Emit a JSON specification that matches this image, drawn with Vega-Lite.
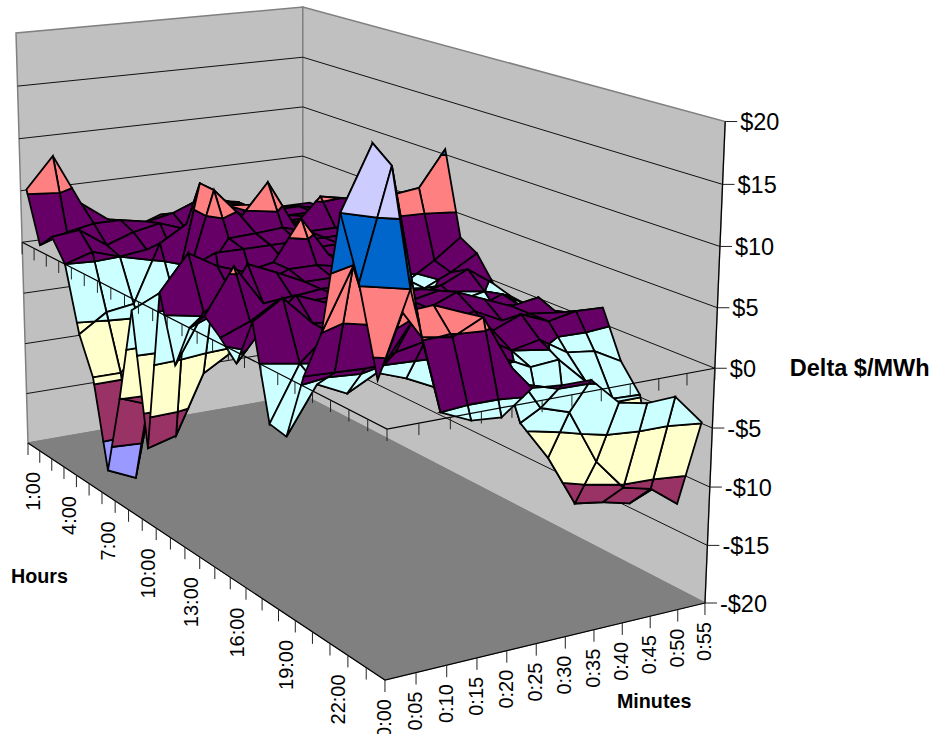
{"$schema":"https://vega.github.io/schema/vega-lite/v6.json","width":934,"height":734,"autosize":{"type":"none"},"padding":0,"background":"white","config":{"view":{"stroke":null}},
"datasets":{"grid":[
{"id":155,"hour":1,"minute":55,"delta":0.5},{"id":150,"hour":1,"minute":50,"delta":0.5},{"id":145,"hour":1,"minute":45,"delta":0.5},{"id":140,"hour":1,"minute":40,"delta":0.5},{"id":135,"hour":1,"minute":35,"delta":0.5},{"id":130,"hour":1,"minute":30,"delta":0.2},{"id":125,"hour":1,"minute":25,"delta":1.3},{"id":120,"hour":1,"minute":20,"delta":0.4},{"id":115,"hour":1,"minute":15,"delta":1.5},{"id":110,"hour":1,"minute":10,"delta":3.4},{"id":105,"hour":1,"minute":5,"delta":8.3},{"id":100,"hour":1,"minute":0,"delta":5.4},
{"id":255,"hour":2,"minute":55,"delta":0.5},{"id":250,"hour":2,"minute":50,"delta":1},{"id":245,"hour":2,"minute":45,"delta":1},{"id":240,"hour":2,"minute":40,"delta":1},{"id":235,"hour":2,"minute":35,"delta":2.5},{"id":230,"hour":2,"minute":30,"delta":3},{"id":225,"hour":2,"minute":25,"delta":2},{"id":220,"hour":2,"minute":20,"delta":1.5},{"id":215,"hour":2,"minute":15,"delta":2},{"id":210,"hour":2,"minute":10,"delta":2},{"id":205,"hour":2,"minute":5,"delta":1.5},{"id":200,"hour":2,"minute":0,"delta":0.6},
{"id":355,"hour":3,"minute":55,"delta":1},{"id":350,"hour":3,"minute":50,"delta":1},{"id":345,"hour":3,"minute":45,"delta":1},{"id":340,"hour":3,"minute":40,"delta":1.5},{"id":335,"hour":3,"minute":35,"delta":3},{"id":330,"hour":3,"minute":30,"delta":3},{"id":325,"hour":3,"minute":25,"delta":1},{"id":320,"hour":3,"minute":20,"delta":1.9},{"id":315,"hour":3,"minute":15,"delta":1.4},{"id":310,"hour":3,"minute":10,"delta":0.5},{"id":305,"hour":3,"minute":5,"delta":2.3},{"id":300,"hour":3,"minute":0,"delta":2},
{"id":455,"hour":4,"minute":55,"delta":1},{"id":450,"hour":4,"minute":50,"delta":1},{"id":445,"hour":4,"minute":45,"delta":1.5},{"id":440,"hour":4,"minute":40,"delta":2},{"id":435,"hour":4,"minute":35,"delta":3},{"id":430,"hour":4,"minute":30,"delta":4},{"id":425,"hour":4,"minute":25,"delta":4},{"id":420,"hour":4,"minute":20,"delta":-0.5},{"id":415,"hour":4,"minute":15,"delta":0.3},{"id":410,"hour":4,"minute":10,"delta":0},{"id":405,"hour":4,"minute":5,"delta":0.8},{"id":400,"hour":4,"minute":0,"delta":0},
{"id":555,"hour":5,"minute":55,"delta":1.5},{"id":550,"hour":5,"minute":50,"delta":1.5},{"id":545,"hour":5,"minute":45,"delta":2},{"id":540,"hour":5,"minute":40,"delta":2},{"id":535,"hour":5,"minute":35,"delta":3},{"id":530,"hour":5,"minute":30,"delta":4},{"id":525,"hour":5,"minute":25,"delta":3.5},{"id":520,"hour":5,"minute":20,"delta":3},{"id":515,"hour":5,"minute":15,"delta":1.5},{"id":510,"hour":5,"minute":10,"delta":-3.9},{"id":505,"hour":5,"minute":5,"delta":-4.3},{"id":500,"hour":5,"minute":0,"delta":-6},
{"id":655,"hour":6,"minute":55,"delta":2},{"id":650,"hour":6,"minute":50,"delta":2},{"id":645,"hour":6,"minute":45,"delta":2},{"id":640,"hour":6,"minute":40,"delta":2},{"id":635,"hour":6,"minute":35,"delta":3},{"id":630,"hour":6,"minute":30,"delta":3},{"id":625,"hour":6,"minute":25,"delta":5},{"id":620,"hour":6,"minute":20,"delta":7.4},{"id":615,"hour":6,"minute":15,"delta":-3},{"id":610,"hour":6,"minute":10,"delta":-7},{"id":605,"hour":6,"minute":5,"delta":-9.4},{"id":600,"hour":6,"minute":0,"delta":-9.4},
{"id":755,"hour":7,"minute":55,"delta":2},{"id":750,"hour":7,"minute":50,"delta":2.5},{"id":745,"hour":7,"minute":45,"delta":4.9},{"id":740,"hour":7,"minute":40,"delta":5.4},{"id":735,"hour":7,"minute":35,"delta":3},{"id":730,"hour":7,"minute":30,"delta":7.4},{"id":725,"hour":7,"minute":25,"delta":4.5},{"id":720,"hour":7,"minute":20,"delta":7.3},{"id":715,"hour":7,"minute":15,"delta":-0.5},{"id":710,"hour":7,"minute":10,"delta":-6.5},{"id":705,"hour":7,"minute":5,"delta":-18.7},{"id":700,"hour":7,"minute":0,"delta":-17.5},
{"id":855,"hour":8,"minute":55,"delta":3},{"id":850,"hour":8,"minute":50,"delta":3},{"id":845,"hour":8,"minute":45,"delta":3},{"id":840,"hour":8,"minute":40,"delta":3},{"id":835,"hour":8,"minute":35,"delta":3},{"id":830,"hour":8,"minute":30,"delta":3.7},{"id":825,"hour":8,"minute":25,"delta":3.5},{"id":820,"hour":8,"minute":20,"delta":3.4},{"id":815,"hour":8,"minute":15,"delta":0},{"id":810,"hour":8,"minute":10,"delta":-5},{"id":805,"hour":8,"minute":5,"delta":-10.9},{"id":800,"hour":8,"minute":0,"delta":-9.9},
{"id":955,"hour":9,"minute":55,"delta":5},{"id":950,"hour":9,"minute":50,"delta":5},{"id":945,"hour":9,"minute":45,"delta":4},{"id":940,"hour":9,"minute":40,"delta":3},{"id":935,"hour":9,"minute":35,"delta":3},{"id":930,"hour":9,"minute":30,"delta":3},{"id":925,"hour":9,"minute":25,"delta":3},{"id":920,"hour":9,"minute":20,"delta":3},{"id":915,"hour":9,"minute":15,"delta":3},{"id":910,"hour":9,"minute":10,"delta":2},{"id":905,"hour":9,"minute":5,"delta":0.1},{"id":900,"hour":9,"minute":0,"delta":-1.1},
{"id":1055,"hour":10,"minute":55,"delta":10.5},{"id":1050,"hour":10,"minute":50,"delta":7.2},{"id":1045,"hour":10,"minute":45,"delta":6.9},{"id":1040,"hour":10,"minute":40,"delta":4},{"id":1035,"hour":10,"minute":35,"delta":3},{"id":1030,"hour":10,"minute":30,"delta":3},{"id":1025,"hour":10,"minute":25,"delta":2},{"id":1020,"hour":10,"minute":20,"delta":-1},{"id":1015,"hour":10,"minute":15,"delta":-5.5},{"id":1010,"hour":10,"minute":10,"delta":-7},{"id":1005,"hour":10,"minute":5,"delta":-12.3},{"id":1000,"hour":10,"minute":0,"delta":-13},
{"id":1155,"hour":11,"minute":55,"delta":2.8},{"id":1150,"hour":11,"minute":50,"delta":1},{"id":1145,"hour":11,"minute":45,"delta":-0.5},{"id":1140,"hour":11,"minute":40,"delta":1},{"id":1135,"hour":11,"minute":35,"delta":2},{"id":1130,"hour":11,"minute":30,"delta":3},{"id":1125,"hour":11,"minute":25,"delta":6.6},{"id":1120,"hour":11,"minute":20,"delta":3},{"id":1115,"hour":11,"minute":15,"delta":2.5},{"id":1110,"hour":11,"minute":10,"delta":3.4},{"id":1105,"hour":11,"minute":5,"delta":4.9},{"id":1100,"hour":11,"minute":0,"delta":1.8},
{"id":1255,"hour":12,"minute":55,"delta":1.9},{"id":1250,"hour":12,"minute":50,"delta":0.5},{"id":1245,"hour":12,"minute":45,"delta":-0.6},{"id":1240,"hour":12,"minute":40,"delta":-0.3},{"id":1235,"hour":12,"minute":35,"delta":1.5},{"id":1230,"hour":12,"minute":30,"delta":2.5},{"id":1225,"hour":12,"minute":25,"delta":3},{"id":1220,"hour":12,"minute":20,"delta":3},{"id":1215,"hour":12,"minute":15,"delta":2},{"id":1210,"hour":12,"minute":10,"delta":1.5},{"id":1205,"hour":12,"minute":5,"delta":0.3},{"id":1200,"hour":12,"minute":0,"delta":-4},
{"id":1355,"hour":13,"minute":55,"delta":-0.3},{"id":1350,"hour":13,"minute":50,"delta":1.4},{"id":1345,"hour":13,"minute":45,"delta":0.3},{"id":1340,"hour":13,"minute":40,"delta":-0.3},{"id":1335,"hour":13,"minute":35,"delta":1},{"id":1330,"hour":13,"minute":30,"delta":2},{"id":1325,"hour":13,"minute":25,"delta":2.5},{"id":1320,"hour":13,"minute":20,"delta":2.5},{"id":1315,"hour":13,"minute":15,"delta":3.7},{"id":1310,"hour":13,"minute":10,"delta":4.8},{"id":1305,"hour":13,"minute":5,"delta":1},{"id":1300,"hour":13,"minute":0,"delta":0},
{"id":1455,"hour":14,"minute":55,"delta":-0.8},{"id":1450,"hour":14,"minute":50,"delta":0},{"id":1445,"hour":14,"minute":45,"delta":-0.5},{"id":1440,"hour":14,"minute":40,"delta":0.5},{"id":1435,"hour":14,"minute":35,"delta":1},{"id":1430,"hour":14,"minute":30,"delta":2},{"id":1425,"hour":14,"minute":25,"delta":2.5},{"id":1420,"hour":14,"minute":20,"delta":2.5},{"id":1415,"hour":14,"minute":15,"delta":2.2},{"id":1410,"hour":14,"minute":10,"delta":2},{"id":1405,"hour":14,"minute":5,"delta":5.6},{"id":1400,"hour":14,"minute":0,"delta":1.7},
{"id":1555,"hour":15,"minute":55,"delta":-1},{"id":1550,"hour":15,"minute":50,"delta":0.4},{"id":1545,"hour":15,"minute":45,"delta":-0.5},{"id":1540,"hour":15,"minute":40,"delta":1},{"id":1535,"hour":15,"minute":35,"delta":2},{"id":1530,"hour":15,"minute":30,"delta":2},{"id":1525,"hour":15,"minute":25,"delta":2},{"id":1520,"hour":15,"minute":20,"delta":2.5},{"id":1515,"hour":15,"minute":15,"delta":2.5},{"id":1510,"hour":15,"minute":10,"delta":3},{"id":1505,"hour":15,"minute":5,"delta":1.5},{"id":1500,"hour":15,"minute":0,"delta":0.5},
{"id":1655,"hour":16,"minute":55,"delta":-1.5},{"id":1650,"hour":16,"minute":50,"delta":0},{"id":1645,"hour":16,"minute":45,"delta":0.5},{"id":1640,"hour":16,"minute":40,"delta":1.5},{"id":1635,"hour":16,"minute":35,"delta":2.5},{"id":1630,"hour":16,"minute":30,"delta":2},{"id":1625,"hour":16,"minute":25,"delta":2},{"id":1620,"hour":16,"minute":20,"delta":2.5},{"id":1615,"hour":16,"minute":15,"delta":3},{"id":1610,"hour":16,"minute":10,"delta":4},{"id":1605,"hour":16,"minute":5,"delta":2},{"id":1600,"hour":16,"minute":0,"delta":-1},
{"id":1755,"hour":17,"minute":55,"delta":-1},{"id":1750,"hour":17,"minute":50,"delta":1.4},{"id":1745,"hour":17,"minute":45,"delta":1},{"id":1740,"hour":17,"minute":40,"delta":2},{"id":1735,"hour":17,"minute":35,"delta":3},{"id":1730,"hour":17,"minute":30,"delta":2},{"id":1725,"hour":17,"minute":25,"delta":2},{"id":1720,"hour":17,"minute":20,"delta":2},{"id":1715,"hour":17,"minute":15,"delta":2},{"id":1710,"hour":17,"minute":10,"delta":2.3},{"id":1705,"hour":17,"minute":5,"delta":4.8},{"id":1700,"hour":17,"minute":0,"delta":3.2},
{"id":1855,"hour":18,"minute":55,"delta":0.5},{"id":1850,"hour":18,"minute":50,"delta":0.7},{"id":1845,"hour":18,"minute":45,"delta":1},{"id":1840,"hour":18,"minute":40,"delta":0.8},{"id":1835,"hour":18,"minute":35,"delta":2},{"id":1830,"hour":18,"minute":30,"delta":1.5},{"id":1825,"hour":18,"minute":25,"delta":1},{"id":1820,"hour":18,"minute":20,"delta":1},{"id":1815,"hour":18,"minute":15,"delta":1},{"id":1810,"hour":18,"minute":10,"delta":2.2},{"id":1805,"hour":18,"minute":5,"delta":0},{"id":1800,"hour":18,"minute":0,"delta":-4.6},
{"id":1955,"hour":19,"minute":55,"delta":1.4},{"id":1950,"hour":19,"minute":50,"delta":1.5},{"id":1945,"hour":19,"minute":45,"delta":1},{"id":1940,"hour":19,"minute":40,"delta":2},{"id":1935,"hour":19,"minute":35,"delta":1},{"id":1930,"hour":19,"minute":30,"delta":-1},{"id":1925,"hour":19,"minute":25,"delta":-3},{"id":1920,"hour":19,"minute":20,"delta":-1.8},{"id":1915,"hour":19,"minute":15,"delta":-0.9},{"id":1910,"hour":19,"minute":10,"delta":-2.2},{"id":1905,"hour":19,"minute":5,"delta":-1},{"id":1900,"hour":19,"minute":0,"delta":-4.9},
{"id":2055,"hour":20,"minute":55,"delta":-2.6},{"id":2050,"hour":20,"minute":50,"delta":-1.3},{"id":2045,"hour":20,"minute":45,"delta":-1},{"id":2040,"hour":20,"minute":40,"delta":0.5},{"id":2035,"hour":20,"minute":35,"delta":0},{"id":2030,"hour":20,"minute":30,"delta":1.5},{"id":2025,"hour":20,"minute":25,"delta":2},{"id":2020,"hour":20,"minute":20,"delta":2},{"id":2015,"hour":20,"minute":15,"delta":1.5},{"id":2010,"hour":20,"minute":10,"delta":0.6},{"id":2005,"hour":20,"minute":5,"delta":0.7},{"id":2000,"hour":20,"minute":0,"delta":0.8},
{"id":2155,"hour":21,"minute":55,"delta":-4.8},{"id":2150,"hour":21,"minute":50,"delta":-4.7},{"id":2145,"hour":21,"minute":45,"delta":-2.8},{"id":2140,"hour":21,"minute":40,"delta":-0.5},{"id":2135,"hour":21,"minute":35,"delta":-0.7},{"id":2130,"hour":21,"minute":30,"delta":0.5},{"id":2125,"hour":21,"minute":25,"delta":0.5},{"id":2120,"hour":21,"minute":20,"delta":0.5},{"id":2115,"hour":21,"minute":15,"delta":5},{"id":2110,"hour":21,"minute":10,"delta":1.6},{"id":2105,"hour":21,"minute":5,"delta":9.9},{"id":2100,"hour":21,"minute":0,"delta":5},
{"id":2255,"hour":22,"minute":55,"delta":-12},{"id":2250,"hour":22,"minute":50,"delta":-13},{"id":2245,"hour":22,"minute":45,"delta":-12.4},{"id":2240,"hour":22,"minute":40,"delta":-12},{"id":2235,"hour":22,"minute":35,"delta":-7.6},{"id":2230,"hour":22,"minute":30,"delta":-4.2},{"id":2225,"hour":22,"minute":25,"delta":3.5},{"id":2220,"hour":22,"minute":20,"delta":5.7},{"id":2215,"hour":22,"minute":15,"delta":6.7},{"id":2210,"hour":22,"minute":10,"delta":6.5},{"id":2205,"hour":22,"minute":5,"delta":20},{"id":2200,"hour":22,"minute":0,"delta":15},
{"id":2355,"hour":23,"minute":55,"delta":-12.7},{"id":2350,"hour":23,"minute":50,"delta":-10.9},{"id":2345,"hour":23,"minute":45,"delta":-10.3},{"id":2340,"hour":23,"minute":40,"delta":-7.6},{"id":2335,"hour":23,"minute":35,"delta":-3},{"id":2330,"hour":23,"minute":30,"delta":-2.2},{"id":2325,"hour":23,"minute":25,"delta":1.5},{"id":2320,"hour":23,"minute":20,"delta":6},{"id":2315,"hour":23,"minute":15,"delta":4.8},{"id":2310,"hour":23,"minute":10,"delta":5.2},{"id":2305,"hour":23,"minute":5,"delta":18.8},{"id":2300,"hour":23,"minute":0,"delta":10.2},
{"id":2455,"hour":24,"minute":55,"delta":-4.9},{"id":2450,"hour":24,"minute":50,"delta":-2.3},{"id":2445,"hour":24,"minute":45,"delta":-2.4},{"id":2440,"hour":24,"minute":40,"delta":-1.9},{"id":2435,"hour":24,"minute":35,"delta":0.4},{"id":2430,"hour":24,"minute":30,"delta":0.4},{"id":2425,"hour":24,"minute":25,"delta":0.6},{"id":2420,"hour":24,"minute":20,"delta":-1.3},{"id":2415,"hour":24,"minute":15,"delta":-1.1},{"id":2410,"hour":24,"minute":10,"delta":0},{"id":2405,"hour":24,"minute":5,"delta":10},{"id":2400,"hour":24,"minute":0,"delta":3.4}
],
"frame":[
{"part":"wall","path":"L","seq":0,"hour":0.5,"minute":0,"delta":-20},{"part":"wall","path":"L","seq":1,"hour":0.5,"minute":55,"delta":-20},{"part":"wall","path":"L","seq":2,"hour":0.5,"minute":55,"delta":20},{"part":"wall","path":"L","seq":3,"hour":0.5,"minute":0,"delta":20},
{"part":"wall","path":"R","seq":0,"hour":0.5,"minute":55,"delta":-20},{"part":"wall","path":"R","seq":1,"hour":24.5,"minute":55,"delta":-20},{"part":"wall","path":"R","seq":2,"hour":24.5,"minute":55,"delta":20},{"part":"wall","path":"R","seq":3,"hour":0.5,"minute":55,"delta":20},
{"part":"floor","path":"F","seq":0,"hour":0.5,"minute":0,"delta":-20},{"part":"floor","path":"F","seq":1,"hour":24.5,"minute":0,"delta":-20},{"part":"floor","path":"F","seq":2,"hour":24.5,"minute":55,"delta":-20},{"part":"floor","path":"F","seq":3,"hour":0.5,"minute":55,"delta":-20},
{"part":"grid","path":"g15","seq":0,"hour":0.5,"minute":0,"delta":15},{"part":"grid","path":"g15","seq":1,"hour":0.5,"minute":55,"delta":15},{"part":"grid","path":"g15","seq":2,"hour":24.5,"minute":55,"delta":15},
{"part":"grid","path":"g10","seq":0,"hour":0.5,"minute":0,"delta":10},{"part":"grid","path":"g10","seq":1,"hour":0.5,"minute":55,"delta":10},{"part":"grid","path":"g10","seq":2,"hour":24.5,"minute":55,"delta":10},
{"part":"grid","path":"g5","seq":0,"hour":0.5,"minute":0,"delta":5},{"part":"grid","path":"g5","seq":1,"hour":0.5,"minute":55,"delta":5},{"part":"grid","path":"g5","seq":2,"hour":24.5,"minute":55,"delta":5},
{"part":"grid","path":"g0","seq":0,"hour":0.5,"minute":0,"delta":0},{"part":"grid","path":"g0","seq":1,"hour":0.5,"minute":55,"delta":0},{"part":"grid","path":"g0","seq":2,"hour":24.5,"minute":55,"delta":0},
{"part":"grid","path":"gm5","seq":0,"hour":0.5,"minute":0,"delta":-5},{"part":"grid","path":"gm5","seq":1,"hour":0.5,"minute":55,"delta":-5},{"part":"grid","path":"gm5","seq":2,"hour":24.5,"minute":55,"delta":-5},
{"part":"grid","path":"gm10","seq":0,"hour":0.5,"minute":0,"delta":-10},{"part":"grid","path":"gm10","seq":1,"hour":0.5,"minute":55,"delta":-10},{"part":"grid","path":"gm10","seq":2,"hour":24.5,"minute":55,"delta":-10},
{"part":"grid","path":"gm15","seq":0,"hour":0.5,"minute":0,"delta":-15},{"part":"grid","path":"gm15","seq":1,"hour":0.5,"minute":55,"delta":-15},{"part":"grid","path":"gm15","seq":2,"hour":24.5,"minute":55,"delta":-15},
{"part":"axis","path":"a0","seq":0,"hour":0.5,"minute":0,"delta":0},{"part":"axis","path":"a0","seq":1,"hour":24.5,"minute":0,"delta":0},{"part":"axis","path":"a0","seq":2,"hour":24.5,"minute":55,"delta":0},
{"part":"axis","path":"af","seq":0,"hour":0.5,"minute":0,"delta":-20},{"part":"axis","path":"af","seq":1,"hour":24.5,"minute":0,"delta":-20},{"part":"axis","path":"af","seq":2,"hour":24.5,"minute":55,"delta":-20},
{"part":"axis","path":"az","seq":0,"hour":24.5,"minute":55,"delta":-20},{"part":"axis","path":"az","seq":1,"hour":24.5,"minute":55,"delta":20},
{"part":"tz","hour":24.5,"minute":55,"delta":20},{"part":"tz","hour":24.5,"minute":55,"delta":15},{"part":"tz","hour":24.5,"minute":55,"delta":10},{"part":"tz","hour":24.5,"minute":55,"delta":5},{"part":"tz","hour":24.5,"minute":55,"delta":0},{"part":"tz","hour":24.5,"minute":55,"delta":-5},{"part":"tz","hour":24.5,"minute":55,"delta":-10},{"part":"tz","hour":24.5,"minute":55,"delta":-15},{"part":"tz","hour":24.5,"minute":55,"delta":-20},
{"part":"tick","hour":0.5,"minute":0,"delta":-20},{"part":"tick","hour":1.5,"minute":0,"delta":-20},{"part":"tick","hour":2.5,"minute":0,"delta":-20},{"part":"tick","hour":3.5,"minute":0,"delta":-20},{"part":"tick","hour":4.5,"minute":0,"delta":-20},{"part":"tick","hour":5.5,"minute":0,"delta":-20},{"part":"tick","hour":6.5,"minute":0,"delta":-20},{"part":"tick","hour":7.5,"minute":0,"delta":-20},{"part":"tick","hour":8.5,"minute":0,"delta":-20},{"part":"tick","hour":9.5,"minute":0,"delta":-20},{"part":"tick","hour":10.5,"minute":0,"delta":-20},{"part":"tick","hour":11.5,"minute":0,"delta":-20},{"part":"tick","hour":12.5,"minute":0,"delta":-20},{"part":"tick","hour":13.5,"minute":0,"delta":-20},{"part":"tick","hour":14.5,"minute":0,"delta":-20},{"part":"tick","hour":15.5,"minute":0,"delta":-20},{"part":"tick","hour":16.5,"minute":0,"delta":-20},{"part":"tick","hour":17.5,"minute":0,"delta":-20},{"part":"tick","hour":18.5,"minute":0,"delta":-20},{"part":"tick","hour":19.5,"minute":0,"delta":-20},{"part":"tick","hour":20.5,"minute":0,"delta":-20},{"part":"tick","hour":21.5,"minute":0,"delta":-20},{"part":"tick","hour":22.5,"minute":0,"delta":-20},{"part":"tick","hour":23.5,"minute":0,"delta":-20},{"part":"tick","hour":24.5,"minute":0,"delta":-20},
{"part":"tick","hour":24.5,"minute":5,"delta":-20},{"part":"tick","hour":24.5,"minute":10,"delta":-20},{"part":"tick","hour":24.5,"minute":15,"delta":-20},{"part":"tick","hour":24.5,"minute":20,"delta":-20},{"part":"tick","hour":24.5,"minute":25,"delta":-20},{"part":"tick","hour":24.5,"minute":30,"delta":-20},{"part":"tick","hour":24.5,"minute":35,"delta":-20},{"part":"tick","hour":24.5,"minute":40,"delta":-20},{"part":"tick","hour":24.5,"minute":45,"delta":-20},{"part":"tick","hour":24.5,"minute":50,"delta":-20},{"part":"tick","hour":24.5,"minute":55,"delta":-20},
{"part":"tick","hour":0.5,"minute":0,"delta":0},{"part":"tick","hour":1.5,"minute":0,"delta":0},{"part":"tick","hour":2.5,"minute":0,"delta":0},{"part":"tick","hour":3.5,"minute":0,"delta":0},{"part":"tick","hour":4.5,"minute":0,"delta":0},{"part":"tick","hour":5.5,"minute":0,"delta":0},{"part":"tick","hour":6.5,"minute":0,"delta":0},{"part":"tick","hour":7.5,"minute":0,"delta":0},{"part":"tick","hour":8.5,"minute":0,"delta":0},{"part":"tick","hour":9.5,"minute":0,"delta":0},{"part":"tick","hour":10.5,"minute":0,"delta":0},{"part":"tick","hour":11.5,"minute":0,"delta":0},{"part":"tick","hour":12.5,"minute":0,"delta":0},{"part":"tick","hour":13.5,"minute":0,"delta":0},{"part":"tick","hour":14.5,"minute":0,"delta":0},{"part":"tick","hour":15.5,"minute":0,"delta":0},{"part":"tick","hour":16.5,"minute":0,"delta":0},{"part":"tick","hour":17.5,"minute":0,"delta":0},{"part":"tick","hour":18.5,"minute":0,"delta":0},{"part":"tick","hour":19.5,"minute":0,"delta":0},{"part":"tick","hour":20.5,"minute":0,"delta":0},{"part":"tick","hour":21.5,"minute":0,"delta":0},{"part":"tick","hour":22.5,"minute":0,"delta":0},{"part":"tick","hour":23.5,"minute":0,"delta":0},{"part":"tick","hour":24.5,"minute":0,"delta":0},
{"part":"tick","hour":24.5,"minute":5,"delta":0},{"part":"tick","hour":24.5,"minute":10,"delta":0},{"part":"tick","hour":24.5,"minute":15,"delta":0},{"part":"tick","hour":24.5,"minute":20,"delta":0},{"part":"tick","hour":24.5,"minute":25,"delta":0},{"part":"tick","hour":24.5,"minute":30,"delta":0},{"part":"tick","hour":24.5,"minute":35,"delta":0},{"part":"tick","hour":24.5,"minute":40,"delta":0},{"part":"tick","hour":24.5,"minute":45,"delta":0},{"part":"tick","hour":24.5,"minute":50,"delta":0},{"part":"tick","hour":24.5,"minute":55,"delta":0},
{"part":"lh","label":"1:00","hour":1,"minute":0,"delta":-20},{"part":"lh","label":"4:00","hour":4,"minute":0,"delta":-20},{"part":"lh","label":"7:00","hour":7,"minute":0,"delta":-20},{"part":"lh","label":"10:00","hour":10,"minute":0,"delta":-20},{"part":"lh","label":"13:00","hour":13,"minute":0,"delta":-20},{"part":"lh","label":"16:00","hour":16,"minute":0,"delta":-20},{"part":"lh","label":"19:00","hour":19,"minute":0,"delta":-20},{"part":"lh","label":"22:00","hour":22,"minute":0,"delta":-20},
{"part":"lm","label":"0:00","hour":24.5,"minute":0,"delta":-20},{"part":"lm","label":"0:05","hour":24.5,"minute":5,"delta":-20},{"part":"lm","label":"0:10","hour":24.5,"minute":10,"delta":-20},{"part":"lm","label":"0:15","hour":24.5,"minute":15,"delta":-20},{"part":"lm","label":"0:20","hour":24.5,"minute":20,"delta":-20},{"part":"lm","label":"0:25","hour":24.5,"minute":25,"delta":-20},{"part":"lm","label":"0:30","hour":24.5,"minute":30,"delta":-20},{"part":"lm","label":"0:35","hour":24.5,"minute":35,"delta":-20},{"part":"lm","label":"0:40","hour":24.5,"minute":40,"delta":-20},{"part":"lm","label":"0:45","hour":24.5,"minute":45,"delta":-20},{"part":"lm","label":"0:50","hour":24.5,"minute":50,"delta":-20},{"part":"lm","label":"0:55","hour":24.5,"minute":55,"delta":-20},
{"part":"lz","label":"$20","hour":24.5,"minute":55,"delta":20},{"part":"lz","label":"$15","hour":24.5,"minute":55,"delta":15},{"part":"lz","label":"$10","hour":24.5,"minute":55,"delta":10},{"part":"lz","label":"$5","hour":24.5,"minute":55,"delta":5},{"part":"lz","label":"$0","hour":24.5,"minute":55,"delta":0},{"part":"lz","label":"-$5","hour":24.5,"minute":55,"delta":-5},{"part":"lz","label":"-$10","hour":24.5,"minute":55,"delta":-10},{"part":"lz","label":"-$15","hour":24.5,"minute":55,"delta":-15},{"part":"lz","label":"-$20","hour":24.5,"minute":55,"delta":-20},
{"part":"tdelta","label":"Delta $/MWh","hour":24.5,"minute":55,"delta":0},{"part":"thours","label":"Hours","hour":0.5,"minute":0,"delta":-20},{"part":"tminutes","label":"Minutes","hour":24.5,"minute":55,"delta":-20}
]},
"data":{"name":"grid"},
"transform":[
{"filter":"datum.hour<24 && datum.minute<55"},
{"calculate":"(datum.hour+1)*100+datum.minute","as":"k10"},
{"calculate":"datum.hour*100+datum.minute+5","as":"k01"},
{"calculate":"(datum.hour+1)*100+datum.minute+5","as":"k11"},
{"lookup":"k10","from":{"data":{"name":"grid"},"key":"id","fields":["delta"]},"as":["z10"]},
{"lookup":"k01","from":{"data":{"name":"grid"},"key":"id","fields":["delta"]},"as":["z01"]},
{"lookup":"k11","from":{"data":{"name":"grid"},"key":"id","fields":["delta"]},"as":["z11"]},
{"calculate":"[-20,-15,-10,-5,0,5,10,15]","as":"lo"},
{"flatten":["lo"]},
{"calculate":"datum.lo+5","as":"hi"},
{"filter":"datum.lo<max(datum.delta,datum.z10,datum.z01,datum.z11) && datum.hi>min(datum.delta,datum.z10,datum.z01,datum.z11)"},
{"calculate":"[0,1,2,3,4,5,6,7,8,9,10,11]","as":"pt"},
{"flatten":["pt"]},
{"calculate":"floor(datum.pt/3)","as":"edge"},
{"calculate":"datum.pt%3","as":"kind"},
{"calculate":"datum.edge==0?datum.delta:datum.edge==1?datum.z10:datum.edge==2?datum.z11:datum.z01","as":"za"},
{"calculate":"datum.edge==0?datum.z10:datum.edge==1?datum.z11:datum.edge==2?datum.z01:datum.delta","as":"zb"},
{"calculate":"datum.hour+((datum.edge==1||datum.edge==2)?1:0)","as":"ha"},
{"calculate":"datum.hour+((datum.edge==0||datum.edge==1)?1:0)","as":"hb"},
{"calculate":"datum.minute+((datum.edge==2||datum.edge==3)?5:0)","as":"ma"},
{"calculate":"datum.minute+((datum.edge==1||datum.edge==2)?5:0)","as":"mb"},
{"calculate":"datum.kind==0?0:(datum.za==datum.zb?-1:(((datum.kind==1)==(datum.za<datum.zb)?datum.lo:datum.hi)-datum.za)/(datum.zb-datum.za))","as":"s"},
{"filter":"datum.kind==0?(datum.za>=datum.lo&&datum.za<=datum.hi):(datum.s>0&&datum.s<1)"},
{"calculate":"datum.hour*100+datum.minute+'_'+datum.lo","as":"poly"},
{"calculate":"(datum.ha+(datum.hb-datum.ha)*datum.s-0.5)/24","as":"u"},
{"calculate":"(datum.ma+(datum.mb-datum.ma)*datum.s)/55","as":"v"},
{"calculate":"(datum.za+(datum.zb-datum.za)*datum.s+20)/40","as":"t"},
{"calculate":"1-0.2155*datum.u+0.0596*datum.v-0.041*datum.t","as":"w"},
{"calculate":"(274*datum.u+293.06*datum.v+28-12.66*datum.t)/datum.w","as":"px"},
{"calculate":"(90.46*datum.u-24.46*datum.v+443-411.4*datum.t)/datum.w","as":"py"}
],
"encoding":{"x":{"field":"px","type":"quantitative","scale":{"domain":[0,934],"nice":false,"zero":false},"axis":null},"y":{"field":"py","type":"quantitative","scale":{"domain":[734,0],"nice":false,"zero":false},"axis":null}},
"layer":[
{"data":{"name":"frame"},"transform":[
{"calculate":"(datum.hour-0.5)/24","as":"u"},{"calculate":"datum.minute/55","as":"v"},{"calculate":"(datum.delta+20)/40","as":"t"},{"calculate":"1-0.2155*datum.u+0.0596*datum.v-0.041*datum.t","as":"w"},{"calculate":"(274*datum.u+293.06*datum.v+28-12.66*datum.t)/datum.w","as":"px"},{"calculate":"(90.46*datum.u-24.46*datum.v+443-411.4*datum.t)/datum.w","as":"py"}],
"layer":[
{"transform":[{"filter":"datum.part=='wall'"}],"mark":{"type":"line","interpolate":"linear-closed","fill":"#C0C0C0","stroke":"#808080","strokeWidth":1.5},"encoding":{"detail":{"field":"path"},"order":{"field":"seq"}}},
{"transform":[{"filter":"datum.part=='floor'"}],"mark":{"type":"line","interpolate":"linear-closed","fill":"#808080","stroke":"#808080","strokeWidth":1},"encoding":{"detail":{"field":"path"},"order":{"field":"seq"}}},
{"transform":[{"filter":"datum.part=='grid'"}],"mark":{"type":"line","stroke":"#111111","strokeWidth":1},"encoding":{"detail":{"field":"path"},"order":{"field":"seq"}}}
]},
{"transform":[{"filter":"datum.lo<0"}],"mark":{"type":"line","interpolate":"linear-closed","stroke":"black","strokeWidth":1.8},"encoding":{"fill":{"field":"lo","type":"nominal","scale":{"domain":[-20,-15,-10,-5,0,5,10,15],"range":["#9999FF","#993366","#FFFFCC","#CCFFFF","#660066","#FF8080","#0066CC","#CCCCFF"]},"legend":null},"detail":{"field":"poly"},"order":{"field":"pt"}}},
{"data":{"name":"frame"},"transform":[
{"calculate":"(datum.hour-0.5)/24","as":"u"},{"calculate":"datum.minute/55","as":"v"},{"calculate":"(datum.delta+20)/40","as":"t"},{"calculate":"1-0.2155*datum.u+0.0596*datum.v-0.041*datum.t","as":"w"},{"calculate":"(274*datum.u+293.06*datum.v+28-12.66*datum.t)/datum.w","as":"px"},{"calculate":"(90.46*datum.u-24.46*datum.v+443-411.4*datum.t)/datum.w","as":"py"},{"calculate":"datum.py+12","as":"ty"},{"calculate":"datum.px+12","as":"tx"}],
"layer":[
{"transform":[{"filter":"datum.part=='axis'"}],"mark":{"type":"line","stroke":"black","strokeWidth":1.2},"encoding":{"detail":{"field":"path"},"order":{"field":"seq"}}},
{"transform":[{"filter":"datum.part=='tick'"}],"mark":{"type":"rule","stroke":"#222222","strokeWidth":1},"encoding":{"y2":{"field":"ty"}}},
{"transform":[{"filter":"datum.part=='tz'"}],"mark":{"type":"rule","stroke":"#222222","strokeWidth":1},"encoding":{"x2":{"field":"tx"}}}
]},
{"transform":[{"filter":"datum.lo>=0"}],"mark":{"type":"line","interpolate":"linear-closed","stroke":"black","strokeWidth":1.8},"encoding":{"fill":{"field":"lo","type":"nominal","scale":{"domain":[-20,-15,-10,-5,0,5,10,15],"range":["#9999FF","#993366","#FFFFCC","#CCFFFF","#660066","#FF8080","#0066CC","#CCCCFF"]},"legend":null},"detail":{"field":"poly"},"order":{"field":"pt"}}},
{"data":{"name":"frame"},"transform":[
{"calculate":"(datum.hour-0.5)/24","as":"u"},{"calculate":"datum.minute/55","as":"v"},{"calculate":"(datum.delta+20)/40","as":"t"},{"calculate":"1-0.2155*datum.u+0.0596*datum.v-0.041*datum.t","as":"w"},{"calculate":"(274*datum.u+293.06*datum.v+28-12.66*datum.t)/datum.w","as":"px"},{"calculate":"(90.46*datum.u-24.46*datum.v+443-411.4*datum.t)/datum.w","as":"py"},{"calculate":"datum.py+(datum.part=='lh'?25:19)","as":"ly"}],
"layer":[
{"transform":[{"filter":"datum.part=='lh'||datum.part=='lm'"}],"mark":{"type":"text","angle":270,"align":"right","baseline":"middle","font":"Liberation Sans","fontSize":20,"fill":"black"},"encoding":{"y":{"field":"ly","type":"quantitative"},"text":{"field":"label"}}},
{"transform":[{"filter":"datum.part=='lz'"}],"mark":{"type":"text","align":"left","baseline":"middle","dx":15,"dy":1.5,"font":"Liberation Sans","fontSize":23.5,"fill":"black"},"encoding":{"text":{"field":"label"}}},
{"transform":[{"filter":"datum.part=='tdelta'"}],"mark":{"type":"text","align":"left","baseline":"middle","dx":75,"dy":1,"font":"Liberation Sans","fontWeight":"bold","fontSize":23.5,"fill":"black"},"encoding":{"text":{"field":"label"}}},
{"transform":[{"filter":"datum.part=='thours'"}],"mark":{"type":"text","align":"left","baseline":"middle","dx":-17,"dy":134,"font":"Liberation Sans","fontWeight":"bold","fontSize":19.7,"fill":"black"},"encoding":{"text":{"field":"label"}}},
{"transform":[{"filter":"datum.part=='tminutes'"}],"mark":{"type":"text","align":"left","baseline":"middle","dx":-88,"dy":99,"font":"Liberation Sans","fontWeight":"bold","fontSize":19.7,"fill":"black"},"encoding":{"text":{"field":"label"}}}
]}
]}
